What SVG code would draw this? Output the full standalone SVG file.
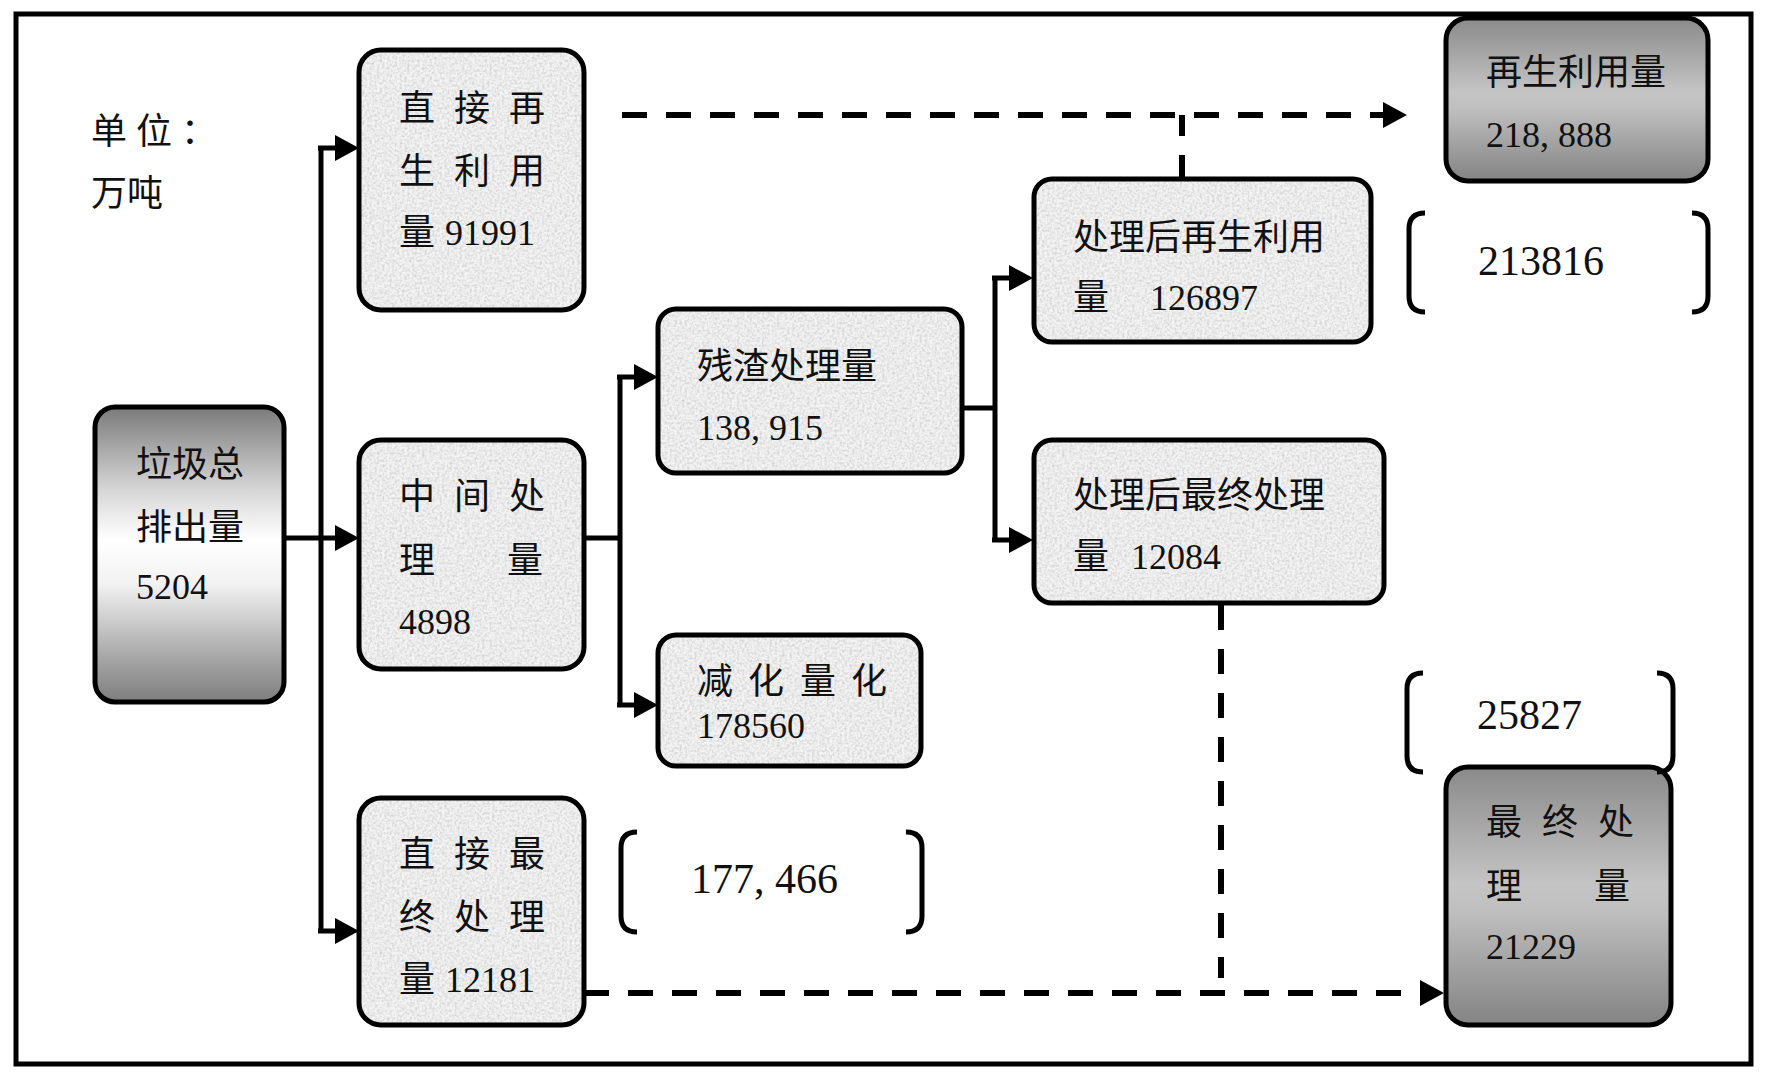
<svg xmlns="http://www.w3.org/2000/svg" width="1774" height="1078" viewBox="0 0 1774 1078">
<defs>
<style>
text{font-family:'Liberation Serif','Noto Sans CJK SC',serif;font-size:36px;fill:#111}
.big{font-size:42px}
.outline{fill:none;stroke:#000;stroke-width:5}
.tex{fill:#f3f3f3;filter:url(#grain)}
.conn{fill:none;stroke:#000;stroke-width:5}
.dash{fill:none;stroke:#000;stroke-width:6;stroke-dasharray:25 19}
.brk{fill:none;stroke:#000;stroke-width:5;stroke-linecap:butt}
</style>
<filter id="grain" x="0" y="0" width="100%" height="100%" color-interpolation-filters="sRGB">
<feTurbulence type="fractalNoise" baseFrequency="0.4" numOctaves="2" seed="4" result="noise"/>
<feColorMatrix in="noise" type="matrix" values="0 0 0 0 0.78  0 0 0 0 0.78  0 0 0 0 0.78  0 0 0 1.6 -0.62" result="specks"/>
<feComposite in="specks" in2="SourceGraphic" operator="in" result="clipped"/>
<feMerge><feMergeNode in="SourceGraphic"/><feMergeNode in="clipped"/></feMerge>
</filter>
<linearGradient id="gA" x1="0" y1="0" x2="0" y2="1">
<stop offset="0" stop-color="#7a7a7a"/>
<stop offset="0.28" stop-color="#d6d6d6"/>
<stop offset="0.45" stop-color="#ffffff"/>
<stop offset="0.6" stop-color="#f2f2f2"/>
<stop offset="0.85" stop-color="#a6a6a6"/>
<stop offset="1" stop-color="#7e7e7e"/>
</linearGradient>
<linearGradient id="gB" x1="0" y1="0" x2="0" y2="1">
<stop offset="0" stop-color="#8a8a8a"/>
<stop offset="0.45" stop-color="#c4c4c4"/>
<stop offset="0.55" stop-color="#c0c0c0"/>
<stop offset="1" stop-color="#838383"/>
</linearGradient>
<marker id="arr" viewBox="0 0 24 26" refX="0" refY="13" markerWidth="24" markerHeight="26" markerUnits="userSpaceOnUse" orient="auto">
<path d="M0,0 L24,13 L0,26 Z" fill="#000"/>
</marker>
</defs>

<rect x="0" y="0" width="1774" height="1078" fill="#fff"/>
<rect id="frame" x="16" y="14" width="1735" height="1050" fill="none" stroke="#000" stroke-width="5"/>

<g id="unit">
<text x="91 136 181" y="144">单位：</text>
<text x="91" y="206">万吨</text>
</g>

<g id="connectors">
<path class="conn" d="M321,147 V931"/>
<path class="conn" d="M284,538 H335" marker-end="url(#arr)"/>
<path class="conn" d="M318,148 H335" marker-end="url(#arr)"/>
<path class="conn" d="M318,931 H335" marker-end="url(#arr)"/>
<path class="conn" d="M584,538 H620"/>
<path class="conn" d="M620,375 V706"/>
<path class="conn" d="M617,377 H634" marker-end="url(#arr)"/>
<path class="conn" d="M617,705 H634" marker-end="url(#arr)"/>
<path class="conn" d="M962,408 H995"/>
<path class="conn" d="M995,276 V542"/>
<path class="conn" d="M992,278 H1009" marker-end="url(#arr)"/>
<path class="conn" d="M992,540 H1009" marker-end="url(#arr)"/>
<path class="dash" d="M622,115 H1383" marker-end="url(#arr)"/>
<path class="dash" d="M1182,180 V115"/>
<path class="dash" d="M584,993 H1420" marker-end="url(#arr)"/>
<path class="dash" d="M1221,605 V978"/>
</g>

<g id="n-total">
<rect x="95" y="407" width="189" height="295" rx="20" fill="url(#gA)"/>
<rect class="outline" x="95" y="407" width="189" height="295" rx="20"/>
<text x="136" y="477">垃圾总</text>
<text x="136" y="540">排出量</text>
<text x="136" y="599">5204</text>
</g>

<g id="n-direct-reuse">
<rect class="tex" x="359" y="50" width="225" height="260" rx="22"/>
<rect class="outline" x="359" y="50" width="225" height="260" rx="22"/>
<text x="399 435 454 490 509" y="121">直 接 再</text>
<text x="399 435 454 490 509" y="184">生 利 用</text>
<text y="245"><tspan x="399">量</tspan><tspan x="445">91991</tspan></text>
</g>

<g id="n-intermediate">
<rect class="tex" x="359" y="440" width="225" height="229" rx="22"/>
<rect class="outline" x="359" y="440" width="225" height="229" rx="22"/>
<text x="399 435 454 490 509" y="509">中 间 处</text>
<text x="399" y="573">理　　量</text>
<text x="399" y="634">4898</text>
</g>

<g id="n-direct-final">
<rect class="tex" x="359" y="798" width="225" height="227" rx="22"/>
<rect class="outline" x="359" y="798" width="225" height="227" rx="22"/>
<text x="399 435 454 490 509" y="867">直 接 最</text>
<text x="399 435 454 490 509" y="930">终 处 理</text>
<text y="992"><tspan x="399">量</tspan><tspan x="445">12181</tspan></text>
</g>

<g id="n-residue">
<rect class="tex" x="658" y="309" width="304" height="164" rx="18"/>
<rect class="outline" x="658" y="309" width="304" height="164" rx="18"/>
<text x="697" y="379">残渣处理量</text>
<text x="697" y="440">138, 915</text>
</g>

<g id="n-reduction">
<rect class="tex" x="658" y="635" width="263" height="131" rx="18"/>
<rect class="outline" x="658" y="635" width="263" height="131" rx="18"/>
<text x="697 733 748 784 800 836 851" y="694">减 化 量 化</text>
<text x="697" y="738">178560</text>
</g>

<g id="n-after-reuse">
<rect class="tex" x="1034" y="179" width="337" height="163" rx="18"/>
<rect class="outline" x="1034" y="179" width="337" height="163" rx="18"/>
<text x="1073" y="250">处理后再生利用</text>
<text y="310"><tspan x="1073">量</tspan><tspan x="1150">126897</tspan></text>
</g>

<g id="n-after-final">
<rect class="tex" x="1034" y="440" width="350" height="163" rx="18"/>
<rect class="outline" x="1034" y="440" width="350" height="163" rx="18"/>
<text x="1073" y="508">处理后最终处理</text>
<text y="569"><tspan x="1073">量</tspan><tspan x="1131">12084</tspan></text>
</g>

<g id="n-reuse-total">
<rect x="1446" y="18" width="262" height="163" rx="22" fill="url(#gB)"/>
<rect class="outline" x="1446" y="18" width="262" height="163" rx="22"/>
<text x="1486" y="85">再生利用量</text>
<text x="1486" y="147">218, 888</text>
</g>

<g id="n-final-total">
<rect x="1446" y="767" width="225" height="258" rx="22" fill="url(#gB)"/>
<rect class="outline" x="1446" y="767" width="225" height="258" rx="22"/>
<text x="1486 1522 1542 1578 1598" y="835">最 终 处</text>
<text x="1486" y="899">理　　量</text>
<text x="1486" y="959">21229</text>
</g>

<g id="b-213816">
<path class="brk" d="M1425,213 Q1409,213 1409,229 V296 Q1409,312 1425,312"/>
<path class="brk" d="M1692,213 Q1708,213 1708,229 V296 Q1708,312 1692,312"/>
<text class="big" x="1478" y="275">213816</text>
</g>

<g id="b-25827">
<path class="brk" d="M1423,673 Q1407,673 1407,689 V756 Q1407,772 1423,772"/>
<path class="brk" d="M1657,673 Q1673,673 1673,689 V756 Q1673,772 1657,772"/>
<text class="big" x="1477" y="729">25827</text>
</g>

<g id="b-177466">
<path class="brk" d="M637,832 Q621,832 621,848 V916 Q621,932 637,932"/>
<path class="brk" d="M906,832 Q922,832 922,848 V916 Q922,932 906,932"/>
<text class="big" x="691" y="893">177, 466</text>
</g>
</svg>
